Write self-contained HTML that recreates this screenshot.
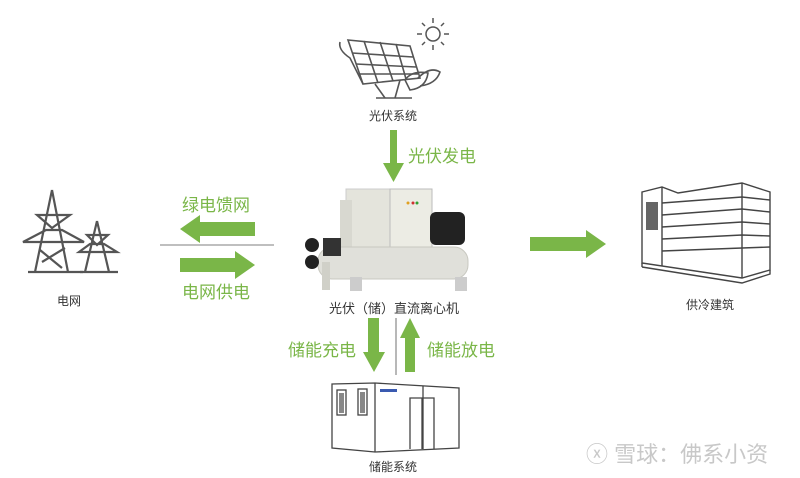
<!DOCTYPE html>
<html><head><meta charset="utf-8"><style>
html,body{margin:0;padding:0;background:#fff;}
body{width:800px;height:478px;overflow:hidden;position:relative;font-family:"Liberation Sans","Noto Sans CJK SC",sans-serif;}
.t{position:absolute;white-space:nowrap;}
.g{color:#333;font-size:12px;}
.gr{color:#7ab648;font-size:17px;}
</style></head><body>
<svg width="800" height="478" style="position:absolute;left:0;top:0">
<g stroke="#555" stroke-width="1.5" fill="none">
<circle cx="433" cy="34" r="7"/>
<line x1="433" y1="18" x2="433" y2="23"/><line x1="433" y1="45" x2="433" y2="50"/>
<line x1="417" y1="34" x2="422" y2="34"/><line x1="444" y1="34" x2="449" y2="34"/>
<line x1="422" y1="23" x2="425" y2="26"/><line x1="441" y1="42" x2="444" y2="45"/>
<line x1="444" y1="23" x2="441" y2="26"/><line x1="422" y1="45" x2="425" y2="42"/>
</g>
<g stroke="#555" stroke-width="1.6" fill="none">
<path d="M348 40 L410 46 L420 78 L363 84 Z"/>
<path d="M340 42 Q338 50 350 58 L363 84"/>
<path d="M352 53 L413 57 M356 64 L416 67 M359 74 L418 74"/>
<path d="M364 41 L378 83 M380 42 L393 81 M396 44 L406 79"/>
<path d="M375 84 L385 98 M400 80 L395 98"/>
<path d="M405 80 Q412 70 428 73 Q426 88 410 90 Z"/>
<path d="M418 78 Q430 66 440 72 Q436 84 420 86"/>
<line x1="376" y1="98" x2="412" y2="98"/>
</g>
<g fill="#7ab648">
<path d="M390 130 H397 V163 H404 L393.5 182 L383 163 H390 Z"/>
<path d="M255 222 V236 H200 V243 L180 229 L200 215 V222 Z"/>
<path d="M180 258 V272 H235 V279 L255 265 L235 251 V258 Z"/>
<path d="M530 237 V251 H586 V258 L606 244 L586 230 V237 Z"/>
<path d="M368 318 H379 V352 H385 L374 372 L363 352 H368 Z"/>
<path d="M405 372 H415 V338 H420 L410 318 L400 338 H405 Z"/>
</g>
<line x1="160" y1="245" x2="274" y2="245" stroke="#999" stroke-width="1.2"/>
<line x1="396" y1="318" x2="396" y2="375" stroke="#888" stroke-width="1.2"/>
<g stroke="#555" stroke-width="2.2" fill="none">
<path d="M52 190 L35 272 M52 190 L68 272 M28 272 H83"/>
<path d="M37 215 H70 L52 228 Z M23 242 H84 L62 230 L46 230 Z"/>
<path d="M40 250 L62 268 M65 248 L42 262"/>
<path d="M97 221 L85 272 M97 221 L109 272 M80 272 H118"/>
<path d="M87 235 H108 L97 245 Z M79 252 H117 L104 244 L90 244 Z"/>
</g>
<rect x="346" y="189" width="86" height="60" fill="#e4e4dc" stroke="#ccc"/>
<rect x="390" y="189" width="42" height="60" fill="#ecece4" stroke="#bbb"/>
<rect x="340" y="200" width="12" height="50" fill="#d8d8d0"/>
<rect x="430" y="212" width="35" height="33" rx="6" fill="#222"/>
<rect x="318" y="247" width="150" height="32" rx="14" fill="#e0e0da" stroke="#c8c8c0"/>
<rect x="322" y="262" width="8" height="28" fill="#d0d0c8"/>
<rect x="350" y="277" width="12" height="14" fill="#ccc"/>
<rect x="455" y="277" width="12" height="14" fill="#ccc"/>
<circle cx="312" cy="245" r="7" fill="#222"/><circle cx="312" cy="262" r="7" fill="#222"/>
<rect x="323" y="238" width="18" height="18" fill="#333"/>
<circle cx="408" cy="203" r="1.5" fill="#e0a020"/><circle cx="413" cy="203" r="1.5" fill="#d03030"/><circle cx="417" cy="203" r="1.5" fill="#30a030"/>
<g stroke="#444" stroke-width="1.3" fill="none">
<path d="M332 384 L375 383 L459 388 L459 448 L375 452 L332 448 Z"/>
<line x1="375" y1="383" x2="375" y2="452"/>
<line x1="423" y1="386" x2="423" y2="449"/>
<path d="M410 449 V398 L434 398 V449 M422 398 V449"/>
<rect x="337" y="390" width="9" height="25"/><rect x="358" y="389" width="9" height="26"/>
</g>
<rect x="339" y="393" width="5" height="20" fill="#888"/><rect x="360" y="392" width="5" height="21" fill="#888"/>
<rect x="380" y="389" width="17" height="3" fill="#3a5ab0"/>
<g stroke="#444" stroke-width="1.4" fill="none">
<path d="M642 192 L662 187 L678 193 L742 183 L770 192 L770 270 L742 278 L642 263 Z"/>
<line x1="662" y1="187" x2="662" y2="266"/>
<line x1="742" y1="183" x2="742" y2="278"/>
<path d="M662 203 L742 197 L770 200 M662 215 L742 209 L770 212 M662 227 L742 222 L770 224 M662 239 L742 235 L770 236 M662 251 L742 248 L770 247"/>
<path d="M642 267 L742 283 L770 274 L770 270"/>
<line x1="642" y1="263" x2="642" y2="267"/>
</g>
<rect x="646" y="202" width="12" height="28" fill="#666"/>
</svg>
<div class="t g" style="left:369px;top:107px">光伏系统</div>
<div class="t gr" style="left:408px;top:142px">光伏发电</div>
<div class="t gr" style="left:182px;top:191px">绿电馈网</div>
<div class="t gr" style="left:182px;top:278px">电网供电</div>
<div class="t g" style="left:57px;top:292px">电网</div>
<div class="t g" style="left:329px;top:298px;font-size:13px">光伏（储）直流离心机</div>
<div class="t gr" style="left:288px;top:336px">储能充电</div>
<div class="t gr" style="left:427px;top:336px">储能放电</div>
<div class="t g" style="left:369px;top:458px">储能系统</div>
<div class="t g" style="left:686px;top:296px">供冷建筑</div>
<div class="t" style="left:586px;top:437px;font-size:22px;color:#c8c8c8">ⓧ 雪球：佛系小资</div>
</body></html>
